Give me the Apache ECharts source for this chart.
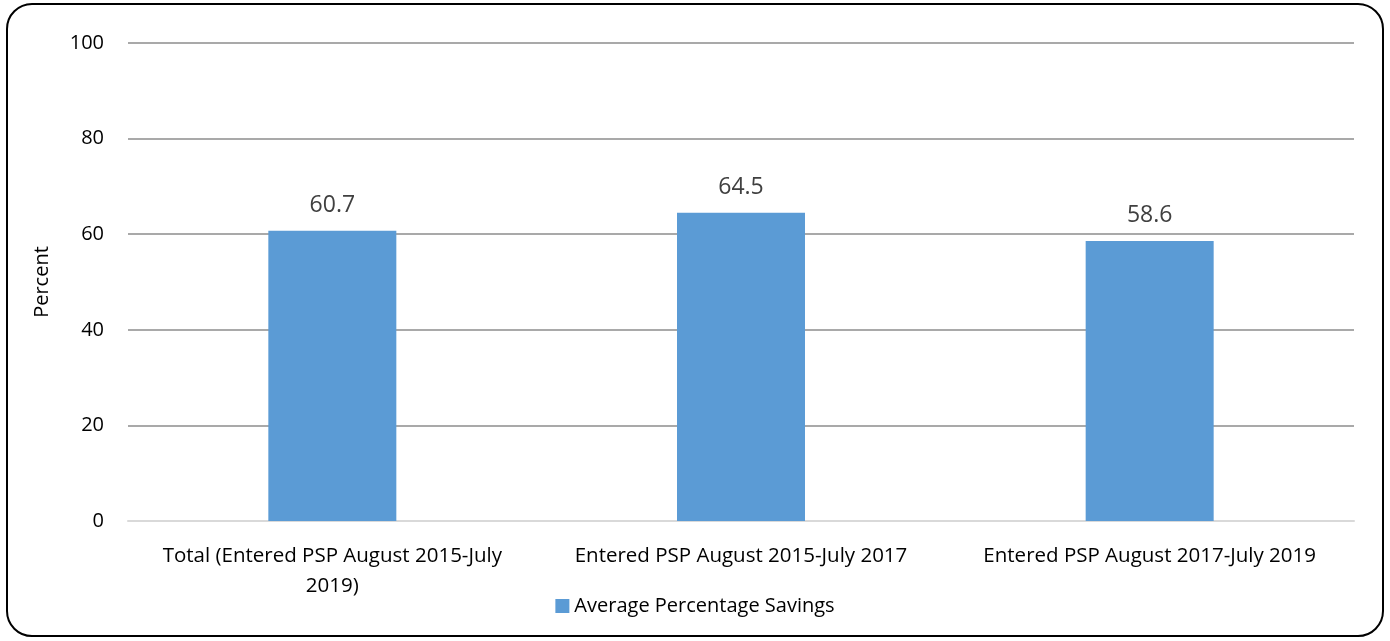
<!DOCTYPE html>
<html>
<head>
<meta charset="utf-8">
<script src="https://cdn.jsdelivr.net/npm/echarts@6/dist/echarts.min.js"></script>
<style>
  html, body { margin: 0; padding: 0; background: #fff; }
  #chart { width: 1390px; height: 641px; }
  #frame {
    position: absolute; left: 6px; top: 3px; width: 1374px; height: 630px;
    border: 2px solid #000; border-radius: 26px; pointer-events: none;
  }
</style>
</head>
<body>
<div id="chart"></div>
<div id="frame"></div>
<script>
const categories = [
  'Total (Entered PSP August 2015-July\n2019)',
  'Entered PSP August 2015-July 2017',
  'Entered PSP August 2017-July 2019'
]
const savings = [60.7, 64.5, 58.6]
const seriesName = 'Average Percentage Savings'

const FONT = "'Open Sans', 'Liberation Sans', sans-serif"
const chart = echarts.init(document.getElementById('chart'))

chart.setOption({
  animation: false,
  textStyle: { fontFamily: FONT },
  grid: { left: 128, right: 36, top: 43, bottom: 120 },
  legend: {
    data: [seriesName],
    bottom: 20,
    left: 'center',
    icon: 'rect',
    itemWidth: 14,
    itemHeight: 14,
    itemGap: 6,
    textStyle: { fontSize: 20, color: '#000', fontFamily: FONT }
  },
  xAxis: {
    type: 'category',
    data: categories,
    axisTick: { show: false },
    axisLine: { lineStyle: { color: '#d9d9d9', width: 2 } },
    axisLabel: { fontSize: 20.5, color: '#000', margin: 20, lineHeight: 30, interval: 0, fontFamily: FONT }
  },
  yAxis: {
    type: 'value',
    min: 0,
    max: 100,
    interval: 20,
    name: 'Percent',
    nameLocation: 'middle',
    nameGap: 76,
    nameTextStyle: { fontSize: 20, color: '#000', fontFamily: FONT },
    axisLine: { show: false },
    axisTick: { show: false },
    axisLabel: { fontSize: 20, color: '#000', margin: 24, fontFamily: FONT },
    splitLine: { lineStyle: { color: '#8c8c8c', width: 1.5 } }
  },
  series: [{
    name: seriesName,
    type: 'bar',
    data: savings,
    barWidth: 128,
    itemStyle: { color: '#5b9bd5' },
    label: {
      show: true,
      position: 'top',
      distance: 14,
      fontSize: 23,
      color: '#404040',
      fontFamily: FONT
    }
  }]
})
</script>
</body>
</html>
